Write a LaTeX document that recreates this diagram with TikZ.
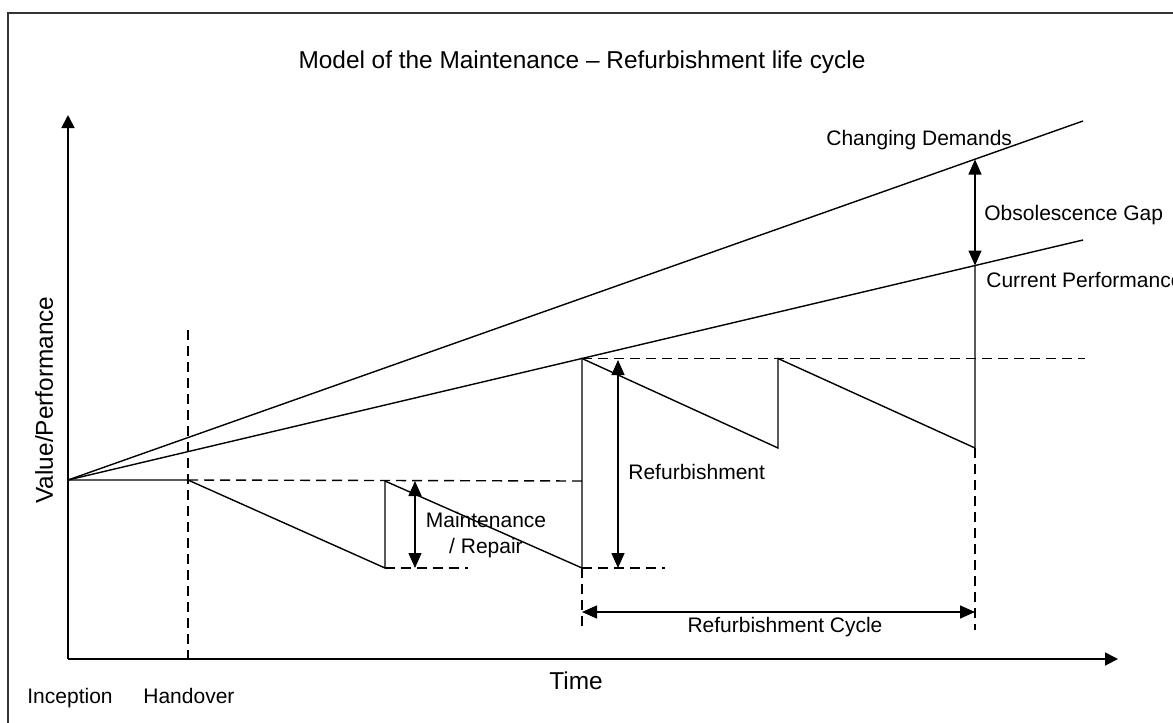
\documentclass[tikz,border=0pt]{standalone}
\usepackage{fontspec}
\setmainfont{Liberation Sans}
\usetikzlibrary{arrows.meta}
\begin{document}
\begin{tikzpicture}[x=0.5pt,y=-0.5pt,
  line/.style={line width=0.7pt},
  dashline/.style={line width=0.7pt, dash pattern=on 5pt off 3pt},
  dbl/.style={line width=0.7pt, {Triangle[length=7.5pt,width=6.5pt]}-{Triangle[length=7.5pt,width=6.5pt]}},
  axis/.style={line width=0.9pt, -{Triangle[length=6.5pt,width=6.5pt]}},
  lbl/.style={font=\fontsize{10.5}{13}\selectfont, inner sep=0pt},
  big/.style={font=\fontsize{12.2}{14}\selectfont, inner sep=0pt}]
\useasboundingbox (0,0) rectangle (1173,723);
% frame
\coordinate (fbl) at (8,723);
\coordinate (ftl) at (8,13);
\coordinate (ftr) at (1173,13);
\draw[line width=0.6pt, black!80] (fbl) -- (ftl) -- (ftr);
% axes
\coordinate (org) at (68,659);
\coordinate (ytip) at (68,115);
\coordinate (xtip) at (1118,659);
\draw[axis] (org) -- (ytip);
\draw[axis] (org) -- (xtip);
% key points
\coordinate (o) at (68,480);
\coordinate (cd) at (1083,121);
\coordinate (cp) at (1083,240);
\coordinate (h) at (188,480);
\coordinate (m1) at (385,568);
\coordinate (m1t) at (385,481);
\coordinate (m2) at (582,568);
\coordinate (r1t) at (582,358.5);
\coordinate (s1) at (778,448);
\coordinate (s1t) at (778,358.5);
\coordinate (s2) at (975,448);
\coordinate (g2) at (975,265.5);
\coordinate (g1) at (975,159.5);
% trend lines
\draw[line] (o) -- (cd);
\draw[line] (o) -- (cp);
% sawtooth
\draw[line] (o) -- (h) -- (m1) -- (m1t) -- (m2) -- (r1t) -- (s1) -- (s1t) -- (s2) -- (g2);
% dashed guides
\coordinate (hd1) at (188,330);
\coordinate (hd2) at (188,659);
\coordinate (d1e) at (582,481);
\coordinate (d2e) at (468,568);
\coordinate (d3e) at (665,568);
\coordinate (d4e) at (1085,358.5);
\coordinate (v1e) at (582,630);
\coordinate (v2e) at (975,630);
\draw[dashline] (hd1) -- (hd2);
\draw[dashline] (h) -- (d1e);
\draw[dashline] (m1) -- (d2e);
\draw[dashline] (m2) -- (d3e);
\draw[dashline] (r1t) -- (d4e);
\draw[dashline] (m2) -- (v1e);
\draw[dashline] (s2) -- (v2e);
% double arrows
\coordinate (ma) at (415,481);
\coordinate (mb) at (415,568);
\coordinate (ra) at (618,360);
\coordinate (rb) at (618,568);
\coordinate (ca) at (582,612);
\coordinate (cb) at (975,612);
\draw[dbl] (ma) -- (mb);
\draw[dbl] (ra) -- (rb);
\draw[dbl] (g1) -- (g2);
\draw[dbl] (ca) -- (cb);
% labels
\node[big, anchor=base] (title) at (582,68) {Model of the Maintenance – Refurbishment life cycle};
\node[lbl, anchor=base west] (lcd) at (826,145) {Changing Demands};
\node[lbl, anchor=base west] (lob) at (984,220) {Obsolescence Gap};
\node[lbl, anchor=base west] (lcp) at (986,287) {Current Performance};
\node[lbl, anchor=base west] (lrf) at (628,479) {Refurbishment};
\node[lbl, anchor=base] (lm1) at (486,527) {Maintenance};
\node[lbl, anchor=base] (lm2) at (486,553) {/ Repair};
\node[lbl, anchor=base] (lrc) at (785,632) {Refurbishment Cycle};
\node[big, anchor=base west] (ltime) at (549,689) {Time};
\node[lbl, anchor=base west] (linc) at (27,703) {Inception};
\node[lbl, anchor=base west] (lhan) at (143,703) {Handover};
\node[big, rotate=90, anchor=base] (lval) at (53,400) {Value/Performance};
\end{tikzpicture}
\end{document}
